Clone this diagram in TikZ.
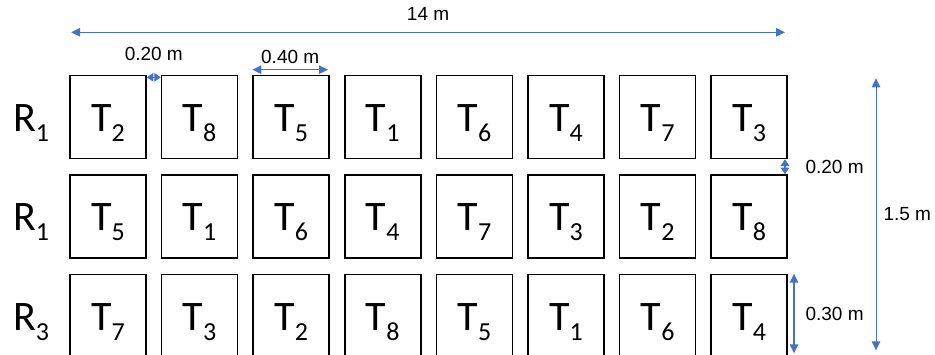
\documentclass[tikz,border=0pt]{standalone}
\usepackage{fontspec}
\setmainfont{Carlito}
\newfontfamily\dimfont{Liberation Sans}
\usetikzlibrary{arrows.meta,positioning}
\definecolor{dimblue}{HTML}{4472C4}
\newcommand{\dnsub}[1]{\raisebox{-10pt}{\fontsize{26}{26}\selectfont #1}}
\tikzset{
  tx/.style={font=\fontsize{42}{42}\selectfont,inner sep=0pt,text height=29pt,text depth=0pt},
  plt/.style={tx,rectangle,draw=black,line width=1.6pt,minimum width=76pt,minimum height=83pt},
  rlb/.style={tx},
  dim/.style={{Triangle[length=9pt,width=8.5pt]}-{Triangle[length=9pt,width=8.5pt]},line width=1.1pt,draw=dimblue,fill=dimblue},
  dimsm/.style={{Triangle[length=6.5pt,width=8.5pt]}-{Triangle[length=6.5pt,width=8.5pt]},line width=1.1pt,draw=dimblue,fill=dimblue},
  lb/.style={font=\dimfont\fontsize{19}{19}\selectfont,inner sep=0pt,text=black},
}
\begin{document}
\begin{tikzpicture}[x=1pt,y=-1pt]
\clip (0,0) rectangle (935,355);
% first row of plots
\node[plt] (a1) at (108,117) {T\dnsub{2}}; \node[plt] (a2) at (199.6,117) {T\dnsub{8}};
\node[plt] (a3) at (291.2,117) {T\dnsub{5}}; \node[plt] (a4) at (382.8,117) {T\dnsub{1}};
\node[plt] (a5) at (474.4,117) {T\dnsub{6}}; \node[plt] (a6) at (566,117) {T\dnsub{4}};
\node[plt] (a7) at (657.6,117) {T\dnsub{7}}; \node[plt] (a8) at (749.2,117) {T\dnsub{3}};
% second row
\node[plt] (b1) at (108,216.5) {T\dnsub{5}}; \node[plt] (b2) at (199.6,216.5) {T\dnsub{1}};
\node[plt] (b3) at (291.2,216.5) {T\dnsub{6}}; \node[plt] (b4) at (382.8,216.5) {T\dnsub{4}};
\node[plt] (b5) at (474.4,216.5) {T\dnsub{7}}; \node[plt] (b6) at (566,216.5) {T\dnsub{3}};
\node[plt] (b7) at (657.6,216.5) {T\dnsub{2}}; \node[plt] (b8) at (749.2,216.5) {T\dnsub{8}};
% third row, cut by the lower edge
\node[plt] (c1) at (108,316) {T\dnsub{7}}; \node[plt] (c2) at (199.6,316) {T\dnsub{3}};
\node[plt] (c3) at (291.2,316) {T\dnsub{2}}; \node[plt] (c4) at (382.8,316) {T\dnsub{8}};
\node[plt] (c5) at (474.4,316) {T\dnsub{5}}; \node[plt] (c6) at (566,316) {T\dnsub{1}};
\node[plt] (c7) at (657.6,316) {T\dnsub{6}}; \node[plt] (c8) at (749.2,316) {T\dnsub{4}};
% replicates
\node[rlb,left=20pt of a1] (ra) {R\dnsub{1}};
\node[rlb,left=20pt of b1] (rb) {R\dnsub{1}};
\node[rlb,left=20pt of c1] (rc) {R\dnsub{3}};
% dimensions
\draw[dim] ([shift={(2,-42.4)}]a1.north west) -- node[lb,above=11pt] (len) {14 m}
  ([shift={(-3,-42.4)}]a8.north east);
\draw[dimsm] ([yshift=-2.6pt]a1.north east) -- node[lb,above=16pt] (gx) {0.20 m}
  ([yshift=-2.6pt]a2.north west);
\draw[dim] ([yshift=5pt]a3.north west) -- node[lb,above=5pt] (wd) {0.40 m}
  ([xshift=-2pt,yshift=5pt]a3.north east);
\draw[dimsm] ([xshift=-3pt]a8.south east) -- node[lb,right=20pt] (gy) {0.20 m}
  ([xshift=-3pt]b8.north east);
\draw[dim] ([xshift=6pt]c8.north east) -- node[lb,right=11pt] (ht) {0.30 m}
  ([xshift=6pt,yshift=5pt]c8.south east);
\draw[dim,line width=1pt] ([xshift=88pt,yshift=-3.6pt]a8.north east) -- node[lb,right=7pt] (tot) {1.5 m}
  ([xshift=88pt,yshift=8pt]c8.south east);
\end{tikzpicture}
\end{document}
